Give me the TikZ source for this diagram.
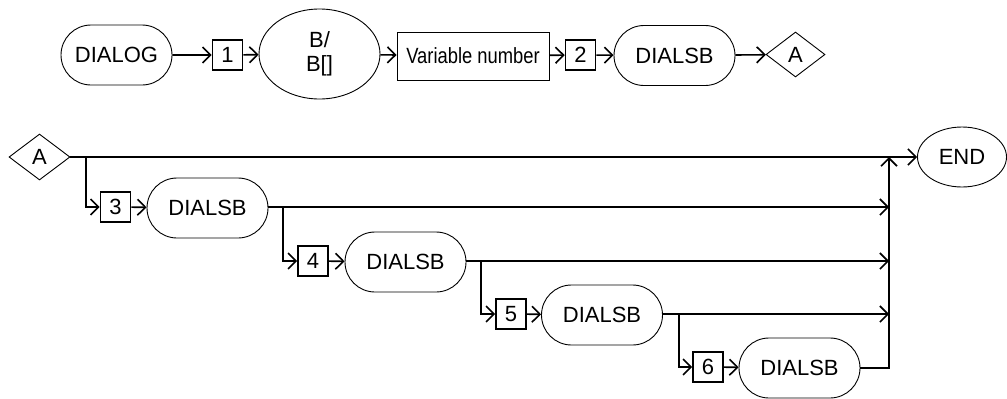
\documentclass[tikz,border=0pt]{standalone}
\usepackage{fontspec}
\usepackage{graphicx}
\setmainfont{Liberation Sans}
\usetikzlibrary{shapes.misc,shapes.geometric,arrows.meta}
\tikzset{
  every node/.style={font=\fontsize{22}{24}\selectfont, inner sep=0pt},
  stad/.style={rounded rectangle, draw, line width=0.9pt, minimum width=121pt, minimum height=60pt},
  numbox/.style={rectangle, draw, line width=1.6pt, minimum width=30pt, minimum height=30pt},
  plainbox/.style={rectangle, draw, line width=0.9pt},
  ell/.style={ellipse, draw, line width=0.9pt},
  dia/.style={diamond, draw, line width=0.9pt, aspect=1.3},
  conn/.style={line width=1.6pt, -{Straight Barb[length=8pt,width=16pt,line width=1.6pt]}},
  wire/.style={line width=1.6pt}
}
\begin{document}
\begin{tikzpicture}[x=1pt,y=-1pt]
\useasboundingbox (0,0) rectangle (1007,399);
% top row
\node[stad, minimum width=111pt] (dialog) at (116.5,55) {DIALOG};
\node[numbox] (n1) at (227.5,55) {1};
\node[ell, minimum width=121pt, minimum height=90pt, align=center] (bb) at (319.5,54) {B/\\B[]};
\node[plainbox, minimum width=152pt, minimum height=48pt] (var) at (473,56) {\scalebox{0.835}[1]{Variable number}};
\node[numbox] (n2) at (580.5,55) {2};
\node[stad] (d0) at (674.5,55.5) {DIALSB};
\node[dia, minimum width=59pt, minimum height=45pt] (a1) at (795.5,54.5) {A};
\draw[conn] (dialog) -- (n1);
\draw[conn] (n1) -- (bb);
\draw[conn] (bb) -- (var);
\draw[conn] (var) -- (n2);
\draw[conn] (n2) -- (d0);
\draw[conn] (d0) -- (a1);
% second part
\node[dia, minimum width=61pt, minimum height=46pt] (a2) at (39.5,157) {A};
\node[ell, minimum width=89pt, minimum height=60pt] (endn) at (962,157) {END};
\node[numbox] (n3) at (115.5,207) {3};
\node[stad] (d3) at (207.5,208) {DIALSB};
\node[numbox] (n4) at (313,261) {4};
\node[stad] (d4) at (405.5,262) {DIALSB};
\node[numbox] (n5) at (511,314) {5};
\node[stad] (d5) at (602,315) {DIALSB};
\node[numbox] (n6) at (708,367) {6};
\node[stad] (d6) at (799.5,368) {DIALSB};
\coordinate (j3) at (86,157);
\coordinate (j4) at (283,207);
\coordinate (j5) at (481,261);
\coordinate (j6) at (679,314);
\coordinate (e3) at (889,207);
\coordinate (e4) at (889,261);
\coordinate (e5) at (889,314);
\coordinate (etop) at (889,157);
\draw[conn] (a2.east) -- (endn.west);
\draw[conn] (j3) |- (n3.west);
\draw[conn] (n3) -- (d3);
\draw[conn] (d3.east |- e3) -- (e3);
\draw[conn] (j4) |- (n4.west);
\draw[conn] (n4) -- (d4);
\draw[conn] (d4.east |- e4) -- (e4);
\draw[conn] (j5) |- (n5.west);
\draw[conn] (n5) -- (d5);
\draw[conn] (d5.east |- e5) -- (e5);
\draw[conn] (j6) |- (n6.west);
\draw[conn] (n6) -- (d6);
\draw[conn] (d6.east) -| (etop);
\end{tikzpicture}
\end{document}
